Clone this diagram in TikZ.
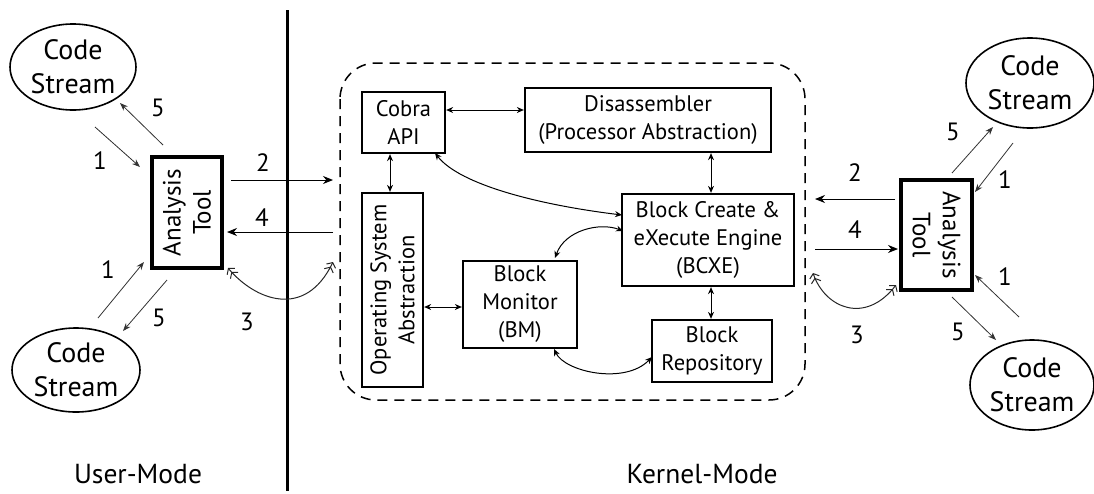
\documentclass[tikz,border=0pt]{standalone}
\usepackage{fontspec}
\setmainfont{PT Sans}
\usetikzlibrary{arrows.meta,shapes.geometric}

\begin{document}
\begin{tikzpicture}[x=1pt,y=-1pt,
  box/.style={draw,line width=2.3pt,inner sep=0pt,align=center,
    font=\fontsize{22.5}{28}\selectfont},
  toolbox/.style={box,line width=3.5pt,font=\fontsize{25}{30}\selectfont},
  stream/.style={draw,ellipse,line width=1.6pt,inner sep=0pt,align=center,
    font=\fontsize{28}{34}\selectfont},
  num/.style={font=\fontsize{25}{28}\selectfont,inner sep=0pt},
  modetext/.style={font=\fontsize{27.5}{32}\selectfont,inner sep=0pt},
  flow/.style={line width=0.8pt,draw=black!80,-{Stealth[length=8pt,width=6pt]}},
  call/.style={line width=1pt,-{Stealth[length=10pt,width=8pt]}},
  link/.style={line width=1pt,{Stealth[length=7pt,width=6pt]}-{Stealth[length=7pt,width=6pt]}},
  hook/.style={line width=1pt,draw=black!85,
    {Straight Barb[length=4pt,width=10pt]Straight Barb[length=4pt,width=10pt]}-{Straight Barb[length=4pt,width=10pt]Straight Barb[length=4pt,width=10pt]}},
]
\useasboundingbox (0,0) rectangle (1094,493);

% user / kernel boundary
\coordinate (sepTop) at (287,10);
\coordinate (sepBot) at (287,491);
\draw[line width=3pt] (sepTop) -- (sepBot);

% kernel component region
\draw[dashed,dash pattern=on 10pt off 7pt,line width=1.5pt,rounded corners=36pt]
  (340,63) rectangle (805,400);

% kernel components
\node[box,minimum width=83pt,minimum height=61pt] (cobra) at (403.5,122.5) {Cobra\\API};
\node[box,minimum width=246pt,minimum height=64pt] (disasm) at (648,120)
  {Disassembler\\(Processor Abstraction)};
\node[box,minimum width=172pt,minimum height=92pt] (bcxe) at (708,240)
  {Block Create \&\\eXecute Engine\\(BCXE)};
\node[box,rotate=90,minimum width=194pt,minimum height=61pt] (os) at (392.5,290)
  {Operating System\\Abstraction};
\node[box,minimum width=114pt,minimum height=87pt] (bm) at (520,304.5)
  {Block\\Monitor\\(BM)};
\node[box,minimum width=120pt,minimum height=62pt] (repo) at (712,351)
  {Block\\Repository};

% analysis tools
\node[toolbox,rotate=90,minimum width=111pt,minimum height=70pt] (atl) at (187,212.5)
  {Analysis\\Tool};
\node[toolbox,rotate=-90,minimum width=110pt,minimum height=71pt] (atr) at (936.5,235)
  {Analysis\\Tool};

% code streams
\node[stream,minimum width=126pt,minimum height=86pt] (csTL) at (73,67) {Code\\Stream};
\node[stream,minimum width=128pt,minimum height=84pt] (csBL) at (76,370) {Code\\Stream};
\node[stream,minimum width=128pt,minimum height=90pt] (csTR) at (1030,83) {Code\\Stream};
\node[stream,minimum width=124pt,minimum height=90pt] (csBR) at (1032,385) {Code\\Stream};

% internal links
\draw[link] (cobra.east |- 0,110) -- (disasm.west |- 0,110);
\draw[link] (cobra.south -| 390,0) -- (os.east -| 390,0);
\draw[link] (disasm.south -| 711,0) -- (bcxe.north -| 711,0);
\draw[link] (bcxe.south -| 711,0) -- (repo.north -| 711,0);
\draw[link] (os.south |- 0,307) -- (bm.west |- 0,307);
\coordinate (cobraFoot) at (435,153);
\coordinate (bcxeSide) at (622,215);
\draw[link] (cobraFoot) .. controls (460,185) and (540,205) .. (bcxeSide);
\coordinate (bmTop) at (555,258);
\coordinate (bcxeMid) at (623,231);
\draw[link] (bmTop) .. controls (565,230) and (600,222) .. (bcxeMid);
\coordinate (bmFoot) at (554,349);
\coordinate (repoSide) at (652,357);
\draw[link] (bmFoot) .. controls (565,372) and (625,385) .. (repoSide);

% left side: tool <-> kernel
\coordinate (l2a) at (231,180); \coordinate (l2b) at (333,180);
\draw[call] (l2a) -- (l2b);
\coordinate (l4a) at (333,232); \coordinate (l4b) at (227,232);
\draw[call] (l4a) -- (l4b);
\coordinate (l3a) at (228,268); \coordinate (l3b) at (333,262);
\draw[hook] (l3a) .. controls (255,300) and (305,320) .. (l3b);

% left side: tool <-> code streams
\coordinate (l1a) at (95,127); \coordinate (l1b) at (140,167);
\draw[flow] (l1a) -- (l1b);
\coordinate (l5a) at (163,145); \coordinate (l5b) at (120,103);
\draw[flow] (l5a) -- (l5b);
\coordinate (l1c) at (98,318); \coordinate (l1d) at (144,262);
\draw[flow] (l1c) -- (l1d);
\coordinate (l5c) at (167,280); \coordinate (l5d) at (123,331);
\draw[flow] (l5c) -- (l5d);

% right side: tool <-> kernel
\coordinate (r2a) at (895,199); \coordinate (r2b) at (815,199);
\draw[call] (r2a) -- (r2b);
\coordinate (r4a) at (815,249); \coordinate (r4b) at (898,249);
\draw[call] (r4a) -- (r4b);
\coordinate (r3a) at (813,273); \coordinate (r3b) at (896,285);
\draw[hook] (r3a) .. controls (825,308) and (865,325) .. (r3b);

% right side: tool <-> code streams
\coordinate (r5a) at (952,173); \coordinate (r5b) at (993,127);
\draw[flow] (r5a) -- (r5b);
\coordinate (r1a) at (1013,143); \coordinate (r1b) at (975,192);
\draw[flow] (r1a) -- (r1b);
\coordinate (r1c) at (1019,317); \coordinate (r1d) at (975,275);
\draw[flow] (r1c) -- (r1d);
\coordinate (r5c) at (952,297); \coordinate (r5d) at (996,340);
\draw[flow] (r5c) -- (r5d);

% step numbers
\node[num] (nL5t) at (158,108) {5};
\node[num] (nL1t) at (100,161) {1};
\node[num] (nL1b) at (108,270) {1};
\node[num] (nL5b) at (159,318) {5};
\node[num] (nL2) at (263,163) {2};
\node[num] (nL4) at (262,218) {4};
\node[num] (nL3) at (247,322) {3};
\node[num] (nR5t) at (953,132) {5};
\node[num] (nR1t) at (1005,180) {1};
\node[num] (nR2) at (855,173) {2};
\node[num] (nR4) at (855,230) {4};
\node[num] (nR1b) at (1005,277) {1};
\node[num] (nR3) at (857,335) {3};
\node[num] (nR5b) at (958,332) {5};

% privilege modes
\node[modetext] (user) at (138,474) {User-Mode};
\node[modetext] (kernel) at (702,474) {Kernel-Mode};
\end{tikzpicture}
\end{document}
